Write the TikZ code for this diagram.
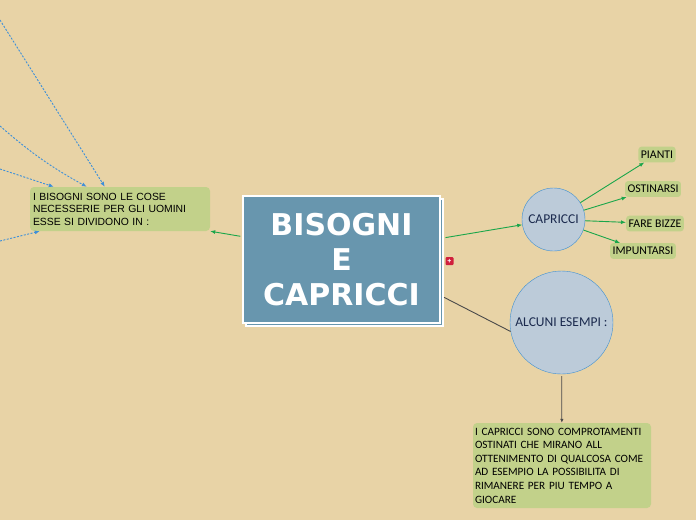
\documentclass[tikz,border=0pt]{standalone}
\usepackage{fontspec}
\setmainfont{Liberation Sans}
\newfontfamily\titlefont{DejaVu Sans}
\newfontfamily\notefont{Carlito}
\usetikzlibrary{positioning,shadows,arrows.meta}

\definecolor{paper}{HTML}{E8D3A6}
\definecolor{mainblue}{HTML}{6896AE}
\definecolor{notegreen}{HTML}{C2D18A}
\definecolor{topicfill}{HTML}{BCCBD9}
\definecolor{topicline}{HTML}{3D8FD2}
\definecolor{topictext}{HTML}{1B2A4E}
\definecolor{linkgreen}{HTML}{1AA64A}
\definecolor{hintblue}{HTML}{3D8FD9}
\definecolor{linkgray}{HTML}{4A4A4A}
\definecolor{togglered}{HTML}{D01F3C}

\begin{document}
\begin{tikzpicture}[x=1pt,y=-1pt,
    note/.style={fill=notegreen,rounded corners=4pt,align=left,inner sep=3pt},
    leaf/.style={fill=notegreen,rounded corners=3pt,inner xsep=2.5pt,inner ysep=4pt,
      font=\notefont\fontsize{11.8}{12}\selectfont},
    topic/.style={circle,draw=topicline,fill=topicfill,text=topictext,inner sep=0pt,
      font=\notefont\fontsize{13.5}{15}\selectfont},
    link/.style={draw=linkgreen,line width=0.9pt,-{Latex[length=5pt,width=4pt]}},
    hint/.style={draw=hintblue,line width=0.9pt,dash pattern=on 2pt off 1.5pt,
      -{Latex[length=5pt,width=4pt]}}]
    \fill[paper] (0,0) rectangle (696,520);
    \useasboundingbox (0,0) rectangle (696,520);

    \node[draw=white,line width=1.2pt,fill=mainblue,minimum width=197pt,minimum height=127pt,
      copy shadow={shadow xshift=3pt,shadow yshift=-3pt,draw=white,fill=mainblue},
      text=white,align=center,font=\titlefont\bfseries\fontsize{30}{35}\selectfont]
      (main) at (341.5,259.5) {BISOGNI\\E\\CAPRICCI};
    \node[fill=togglered,rounded corners=1pt,minimum size=8pt,inner sep=0pt,
      text=white,font=\bfseries\fontsize{7}{7}\selectfont] (toggle) at (449.5,261) {+};

    \node[note,minimum width=180pt,minimum height=44pt,text width=174pt,
      font=\fontsize{10.4}{12.5}\selectfont] (bisogni) at (120,209)
      {I BISOGNI SONO LE COSE\\NECESSERIE PER GLI UOMINI\\ESSE SI DIVIDONO IN :};

    \node[topic,minimum size=63pt] (capricci) at (553.5,219.5) {CAPRICCI};
    \node[leaf] (pianti) at (657,154.5) {PIANTI};
    \node[leaf] (ostinarsi) at (653,189) {OSTINARSI};
    \node[leaf] (fare) at (655,223.5) {FARE BIZZE};
    \node[leaf] (impuntarsi) at (643,251) {IMPUNTARSI};

    \node[topic,minimum size=103pt] (esempi) at (561.5,322.5) {ALCUNI ESEMPI :};
    \node[note,minimum width=178pt,minimum height=85pt,text width=174pt,inner sep=2pt,
      font=\notefont\fontsize{11.2}{13.6}\selectfont] (definizione) at (562,465.5)
      {I CAPRICCI SONO COMPROTAMENTI\\OSTINATI CHE MIRANO ALL\\OTTENIMENTO DI QUALCOSA COME\\AD ESEMPIO LA POSSIBILITA DI\\RIMANERE PER PIU TEMPO A\\GIOCARE};

    % links from the main topic
    \draw[link,shorten <=2pt] (main.167) -- (bisogni.south east);
    \draw[link,shorten <=5pt] (main.12) -- (capricci);
    \draw[draw=linkgray,line width=0.9pt,shorten <=4pt] (main.-20) -- (esempi.-170);
    \draw[draw=linkgray,line width=0.8pt,-{Latex[length=4pt,width=3.5pt]},shorten <=2pt] (esempi) -- (definizione);

    \draw[link] (capricci) -- (pianti);
    \draw[link] (capricci) -- (ostinarsi);
    \draw[link] (capricci) -- (fare);
    \draw[link] (capricci) -- (impuntarsi);

    % links coming from outside the page
    \coordinate (h1) at (0,20);
    \coordinate (h2) at (0,126);
    \coordinate (h3) at (0,169);
    \coordinate (h4) at (0,241);
    \draw[hint] (h1) -- ([xshift=75pt]bisogni.north west);
    \draw[hint] (h2) to[bend right=6] ([xshift=57pt]bisogni.north west);
    \draw[hint] (h3) -- ([xshift=24pt]bisogni.north west);
    \draw[hint] (h4) -- ([xshift=10pt]bisogni.south west);
\end{tikzpicture}
\end{document}
